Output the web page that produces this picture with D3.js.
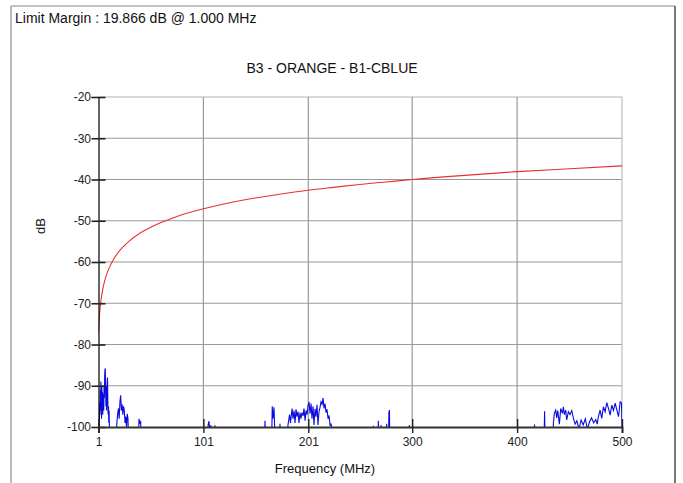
<!DOCTYPE html>
<html>
<head>
<meta charset="utf-8">
<script src="https://cdn.jsdelivr.net/npm/d3@7"></script>
<style>
  html, body { margin: 0; padding: 0; background: #fff; }
  svg { display: block; font-family: "Liberation Sans", Arial, sans-serif; }
</style>
</head>
<body>
<svg id="chart" width="683" height="483"></svg>
<script>
// ---------- data ----------
const headerText = "Limit Margin : 19.866 dB @ 1.000 MHz";
const titleText = "B3 - ORANGE - B1-CBLUE";
const xLabel = "Frequency (MHz)";
const yLabel = "dB";
const freqTicks = [1, 101, 201, 300, 400, 500];
const dbTicks = [-20, -30, -40, -50, -60, -70, -80, -90, -100];

// limit line (red)
const limitFreq = [1, 1.5, 2, 3, 4, 5, 6, 8, 10, 12, 15, 20, 25, 30, 40, 50, 60, 70, 85, 101, 125, 150, 175, 201, 225, 250, 275, 300, 350, 400, 450, 500];
const limitDb   = [-77.2, -74.6, -72.7, -70.1, -68.2, -66.7, -65.5, -63.6, -62.2, -61.0, -59.5, -57.6, -56.2, -55.0, -53.1, -51.7, -50.5, -49.5, -48.2, -47.1, -45.7, -44.5, -43.5, -42.6, -41.9, -41.2, -40.6, -40.0, -39.0, -38.1, -37.4, -36.7];

const traceSegA = [[1.5,-103],[1.8,-101],[2.1,-94],[2.4,-97],[2.7,-91],[3,-96],[3.3,-89],[3.6,-93],[3.9,-98],[4.2,-90],[4.5,-95],[4.8,-91.5],[5.1,-97],[5.4,-92],[5.7,-94],[6,-96],[6.3,-90],[6.6,-93],[6.9,-87.5],[7.2,-86],[7.5,-85.8],[7.8,-92],[8.1,-95],[8.4,-90],[8.7,-96],[9,-93],[9.3,-89],[9.6,-88],[9.9,-94],[10.2,-97],[10.5,-95],[10.8,-99],[11.1,-96],[11.4,-100],[11.8,-105]];
const traceSegB = [[17.5,-105],[18.5,-99],[19.2,-97],[20,-95.5],[20.7,-98],[21.4,-94],[22.1,-92.3],[22.8,-96],[23.5,-94.5],[24.2,-97],[24.9,-95],[25.6,-96],[26.3,-99],[27,-97.5],[27.7,-100],[28.4,-96.8],[29.1,-98],[29.8,-105]];
const traceSegC = [[39,-105],[39.6,-98],[40.4,-99],[41.2,-98.7],[42,-105]];
const traceSegD = [[104.8,-105],[105.5,-99.5],[106.3,-98.6],[107,-100.5],[108.2,-99.6],[109,-105],[111.5,-105],[112,-99.6],[112.6,-105]];
const traceSegE = [[159,-105],[159.7,-98.5],[160.4,-105],[166,-105],[166.6,-95],[167.3,-98],[168.3,-95.2],[169,-101],[173.5,-105],[174,-99.2],[174.6,-105]];
const traceSegF = [[181,-103],[181.6,-99.5],[183.1,-97],[184,-99],[185.5,-95.5],[186.4,-98],[187.4,-96],[188.3,-99],[189.3,-95.7],[190.2,-97.5],[191.2,-96.3],[192.1,-99],[193.1,-96.5],[194,-98],[195,-96.5],[196,-97.3],[196.9,-95.5],[197.9,-98.5],[198.8,-96],[199.8,-97],[200.7,-94.8],[201.7,-93.9],[202.6,-96.8],[203.6,-94.3],[204.5,-98],[205.5,-95],[206.4,-99.5],[207.4,-95.6],[208.3,-97.5],[209.3,-94.6],[210.2,-99.5],[211.2,-96.3],[212.2,-95.2],[213.1,-93.9],[214.1,-94.5],[215,-93],[216,-95.5],[216.9,-94.3],[217.9,-96.5],[218.8,-95.7],[219.8,-98],[220.7,-97.2],[221.7,-99.5],[222.6,-99.3],[223.6,-100.5],[224.2,-105]];
const traceSegG = [[262.5,-105],[263,-99.7],[263.5,-105],[267.2,-105],[267.7,-98.5],[268.3,-105],[269.8,-105],[270.3,-99.5],[270.8,-105],[275.2,-105],[275.7,-99.2],[276.2,-105],[277.3,-105],[277.8,-96.5],[278.3,-95.9],[278.8,-105],[296.8,-105],[297.3,-99.5],[297.8,-105]];
const traceSegH = [[416,-105],[416.6,-99.4],[417.2,-105],[425.6,-105],[426.2,-96.2],[426.8,-105],[434,-103],[434.6,-99.1],[435.5,-96.7],[436.8,-95.9],[437.8,-97.8],[438.7,-96],[440.3,-99.3],[441.6,-95.5],[443.2,-96.7],[444.1,-95.1],[445.1,-97],[446.4,-95.9],[447.3,-98.3],[448.9,-96.3],[450.5,-97],[452.1,-96],[453.6,-97.8],[455.3,-99.3],[457,-98.5],[459,-100.5],[461,-98.3],[463,-99.5],[465,-98],[467,-100.5],[469,-98.8],[471,-97.8],[473,-99],[475,-98.2],[476.3,-99.3],[477.5,-97.5],[479.1,-95.9],[480.7,-97.9],[482.3,-95.1],[483.9,-96.3],[485.5,-94.1],[487.1,-95.5],[488.7,-97.1],[490.3,-94.7],[491.9,-96],[493.5,-94.2],[495.1,-95.9],[496.7,-97.5],[498.2,-93.9],[499.5,-94.2],[500,-100]];
const traceSegments = [traceSegA, traceSegB, traceSegC, traceSegD, traceSegE, traceSegF, traceSegG, traceSegH];

// ---------- drawing ----------
const svg = d3.select("#chart");
const plot = { left: 98.5, right: 622, top: 97, bottom: 427 };
const x = d3.scaleLinear().domain([1, 500]).range([plot.left, plot.right]);
const y = d3.scaleLinear().domain([-100, -20]).range([plot.bottom, plot.top]);
const fmt = d => String(d);

// outer frame
svg.append("line").attr("x1", 11).attr("y1", 6).attr("x2", 675).attr("y2", 6).attr("stroke", "#8a8a8a").attr("stroke-width", 1.2);
svg.append("line").attr("x1", 11).attr("y1", 6).attr("x2", 11).attr("y2", 483).attr("stroke", "#8a8a8a").attr("stroke-width", 1.2);
svg.append("line").attr("x1", 675).attr("y1", 6).attr("x2", 675).attr("y2", 483).attr("stroke", "#222").attr("stroke-width", 1.2);

// texts
svg.append("text").attr("x", 15).attr("y", 23).attr("font-size", 14).attr("fill", "#111").text(headerText);
svg.append("text").attr("x", 332).attr("y", 73).attr("text-anchor", "middle").attr("font-size", 14).attr("fill", "#111").text(titleText);
svg.append("text").attr("x", 325).attr("y", 473).attr("text-anchor", "middle").attr("font-size", 13).attr("fill", "#111").text(xLabel);
svg.append("text").attr("transform", "translate(45,226) rotate(-90)").attr("text-anchor", "middle").attr("font-size", 13).attr("fill", "#111").text(yLabel);

// grid
const grid = svg.append("g");
grid.selectAll("line.h").data(dbTicks.filter(d => d !== -100)).enter().append("line")
  .attr("x1", plot.left).attr("x2", plot.right)
  .attr("y1", d => y(d)).attr("y2", d => y(d))
  .attr("stroke", d => d === -20 ? "#b4b4b4" : "#9a9a9a").attr("stroke-width", 1.2);
grid.selectAll("line.v").data(freqTicks.filter(d => d !== 1)).enter().append("line")
  .attr("x1", d => x(d)).attr("x2", d => x(d))
  .attr("y1", plot.top).attr("y2", plot.bottom)
  .attr("stroke", d => d === 500 ? "#bdbdbd" : "#9a9a9a").attr("stroke-width", 1.2);

// clip
svg.append("clipPath").attr("id", "clip").append("rect")
  .attr("x", plot.left).attr("y", plot.top).attr("width", plot.right - plot.left).attr("height", plot.bottom - plot.top);

const lineGen = d3.line().x(d => x(d[0])).y(d => y(d[1]));

// trace
const traceG = svg.append("g").attr("clip-path", "url(#clip)");
traceSegments.forEach(seg => {
  traceG.append("path").attr("d", lineGen(seg)).attr("fill", "none")
    .attr("stroke", "#0a0ae0").attr("stroke-width", 1.1);
});

// limit
const limitData = limitFreq.map((f, i) => [f, limitDb[i]]);
svg.append("g").attr("clip-path", "url(#clip)").append("path")
  .attr("d", d3.line().x(d => x(d[0])).y(d => y(d[1])).curve(d3.curveMonotoneX)(limitData))
  .attr("fill", "none").attr("stroke", "#e8302e").attr("stroke-width", 1.1);

// axes
const yAxis = d3.axisLeft(y).tickValues(dbTicks).tickSize(7).tickPadding(0.5).tickFormat(fmt);
const yg = svg.append("g").attr("transform", `translate(${plot.left},0)`).call(yAxis);
yg.select(".domain").attr("stroke", "#000").attr("stroke-width", 1.2);
yg.selectAll(".tick line").attr("stroke", "#222").attr("stroke-width", 1.6);
yg.selectAll("text").attr("font-size", 12).attr("fill", "#222").attr("font-family", "Liberation Sans, Arial, sans-serif");
const yIn = d3.axisLeft(y).tickValues(dbTicks).tickSize(-7).tickFormat("");
const yg2 = svg.append("g").attr("transform", `translate(${plot.left},0)`).call(yIn);
yg2.select(".domain").remove();
yg2.selectAll(".tick line").attr("stroke", "#222").attr("stroke-width", 1.6);

const xAxis = d3.axisBottom(x).tickValues(freqTicks).tickSize(6).tickPadding(4).tickFormat(fmt);
const xg = svg.append("g").attr("transform", `translate(0,${plot.bottom})`).call(xAxis);
xg.select(".domain").attr("stroke", "#333").attr("stroke-width", 1.8);
xg.selectAll(".tick line").attr("stroke", "#222").attr("stroke-width", 1.4);
xg.selectAll("text").attr("font-size", 12).attr("fill", "#222").attr("font-family", "Liberation Sans, Arial, sans-serif");
const xIn = d3.axisBottom(x).tickValues(freqTicks).tickSize(-8).tickFormat("");
const xg2 = svg.append("g").attr("transform", `translate(0,${plot.bottom})`).call(xIn);
xg2.select(".domain").remove();
xg2.selectAll(".tick line").attr("stroke", "#222").attr("stroke-width", 1.4);
</script>
</body>
</html>
